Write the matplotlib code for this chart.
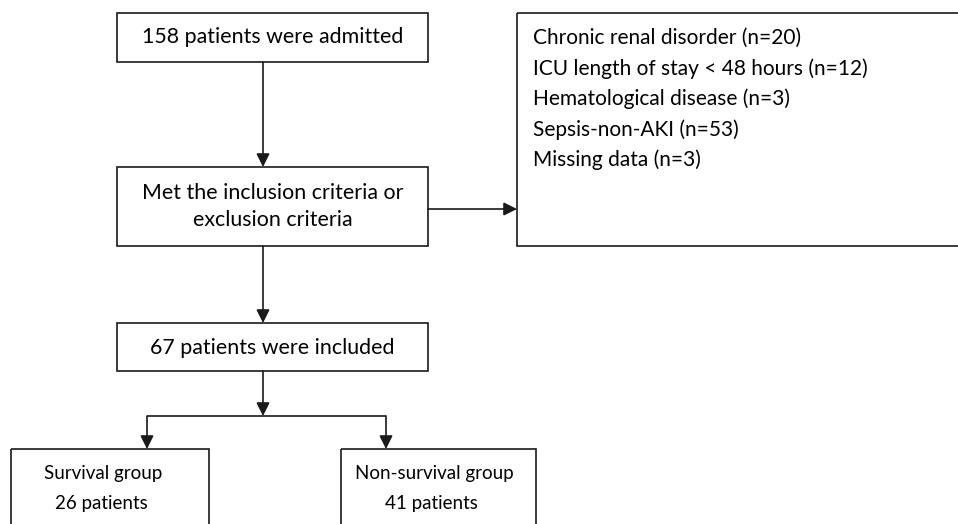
import matplotlib
matplotlib.use("Agg")
import matplotlib.pyplot as plt
from matplotlib.patches import Rectangle

# flowchart content
admitted = 158
included = 67
survival_n = 26
nonsurvival_n = 41
excl_labels = ["Chronic renal disorder", "ICU length of stay < 48 hours",
               "Hematological disease", "Sepsis-non-AKI", "Missing data"]
excl_counts = [20, 12, 3, 53, 3]

plt.rcParams['font.family'] = ['Lato', 'DejaVu Sans']
FS = 15.4
FS_R = 15
FS_B = 13.5
EC = '#1a1a1a'
LW = 1.2

fig = plt.figure(figsize=(9.58, 5.24), dpi=100)
ax = fig.add_axes([0, 0, 1, 1])
ax.set_xlim(0, 958)
ax.set_ylim(524, 0)
ax.axis('off')


def box(x0, y0, x1, y1):
    ax.add_patch(Rectangle((x0, y0), x1 - x0, y1 - y0, fill=False,
                           ec=EC, lw=LW, clip_on=True))


def arrow(x0, y0, x1, y1):
    ax.annotate('', xy=(x1, y1), xytext=(x0, y0),
                arrowprops=dict(arrowstyle='-|>,head_length=0.8,head_width=0.4',
                                lw=LW, color=EC, fc=EC, shrinkA=0, shrinkB=0))


# boxes
box(117, 13, 428, 62)
box(117, 167, 428, 246)
box(517, 13, 990, 246)
box(117, 323, 428, 371)
box(11, 449, 209, 560)
box(341, 449, 536, 560)

# arrows
arrow(263, 62, 263, 167)
arrow(428, 209, 517, 209)
arrow(263, 246, 263, 323)
arrow(263, 371, 263, 416)
ax.plot([147, 386], [416, 416], color=EC, lw=LW, solid_capstyle='butt')
arrow(147, 416, 147, 449)
arrow(386, 416, 386, 449)

# text
ax.text(272.5, 37, f"{admitted} patients were admitted", fontsize=FS,
        ha='center', va='center')
ax.text(272.5, 193, "Met the inclusion criteria or", fontsize=FS,
        ha='center', va='center')
ax.text(272.5, 220, "exclusion criteria", fontsize=FS, ha='center', va='center')
ax.text(272.5, 348, f"{included} patients were included", fontsize=FS,
        ha='center', va='center')

line_y = [38, 69, 99, 130, 160]
for y, lab, n in zip(line_y, excl_labels, excl_counts):
    ax.text(533, y, f"{lab} (n={n})", fontsize=FS_R, ha='left', va='center')

ax.text(103, 473, "Survival group", fontsize=FS_B, ha='center', va='center')
ax.text(101, 503, f"{survival_n} patients", fontsize=FS_B, ha='center', va='center')
ax.text(434, 473, "Non-survival group", fontsize=FS_B, ha='center', va='center')
ax.text(431, 503, f"{nonsurvival_n} patients", fontsize=FS_B, ha='center', va='center')

fig.savefig("out.png", dpi=100)
